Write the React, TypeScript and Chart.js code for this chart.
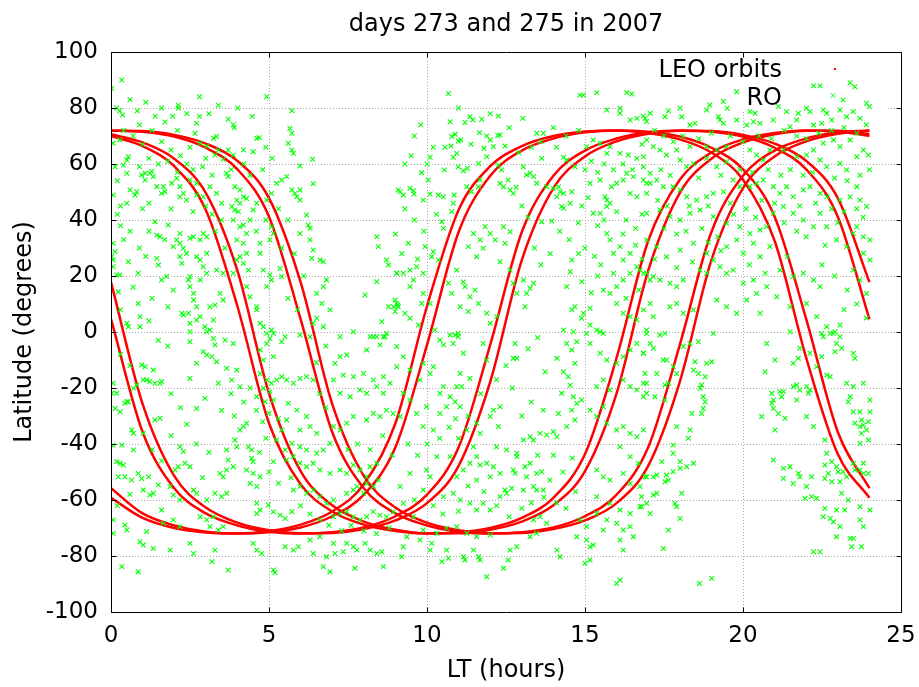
import React, { useEffect, useRef } from 'react';
import { Chart, registerables } from 'chart.js';

Chart.register(...registerables);

const FONT = "'DejaVu Sans', 'Liberation Sans', sans-serif";

const TITLE = 'days 273 and 275 in 2007';
const X_LABEL = 'LT (hours)';
const Y_LABEL = 'Latitude (degrees)';
const LEGEND_LABELS = ['LEO orbits', 'RO'];
const X_TICKS = [0, 5, 10, 15, 20, 25];
const Y_TICKS = [-100, -80, -60, -40, -20, 0, 20, 40, 60, 80, 100];

// LEO orbit tracks (latitude at each local-time hour), two passes per satellite
const leoLT = [0, 1, 2, 3, 4, 5, 6, 7, 8, 9, 10, 11, 12, 13, 14, 15, 16, 17, 18, 19, 20, 21, 22, 23, 24];
const trackP1 = [-59.2, -66.4, -70.0, -71.6, -72.0, -71.1, -68.8, -64.1, -54.4, -32.6, 9.2, 43.6, 59.2, 66.4, 70.0, 71.6, 72.0, 71.1, 68.8, 64.1, 54.4, 32.6, -9.2, -43.6, -59.2];
const trackP2 = [-55.8, -64.8, -69.1, -71.3, -72.0, -71.5, -69.8, -65.8, -58.1, -41.2, -4.6, 35.7, 55.8, 64.8, 69.1, 71.3, 72.0, 71.5, 69.8, 65.8, 58.1, 41.2, 4.6, -35.7, -55.8];
const trackQ1 = [4.6, -35.7, -55.8, -64.8, -69.1, -71.3, -72.0, -71.5, -69.8, -65.8, -58.1, -41.2, -4.6, 35.7, 55.8, 64.8, 69.1, 71.3, 72.0, 71.5, 69.8, 65.8, 58.1, 41.2, 4.6];
const trackQ2 = [17.8, -25.7, -51.4, -62.7, -68.1, -70.8, -71.9, -71.8, -70.4, -67.3, -61.1, -47.8, -17.8, 25.7, 51.4, 62.7, 68.1, 70.8, 71.9, 71.8, 70.4, 67.3, 61.1, 47.8, 17.8];
const trackR1 = [70.0, 66.4, 59.2, 43.6, 9.2, -32.6, -54.4, -64.1, -68.8, -71.1, -72.0, -71.6, -70.0, -66.4, -59.2, -43.6, -9.2, 32.6, 54.4, 64.1, 68.8, 71.1, 72.0, 71.6, 70.0];
const trackR2 = [70.6, 67.7, 61.9, 49.7, 21.9, -21.9, -49.7, -61.9, -67.7, -70.6, -71.9, -71.9, -70.6, -67.7, -61.9, -49.7, -21.9, 21.9, 49.7, 61.9, 67.7, 70.6, 71.9, 71.9, 70.6];
const trackS1 = [72.0, 71.5, 69.8, 65.8, 58.1, 41.2, 4.6, -35.7, -55.8, -64.8, -69.1, -71.3, -72.0, -71.5, -69.8, -65.8, -58.1, -41.2, -4.6, 35.7, 55.8, 64.8, 69.1, 71.3, 72.0];
const trackS2 = [71.9, 71.8, 70.4, 67.3, 61.1, 47.8, 17.8, -25.7, -51.4, -62.7, -68.1, -70.8, -71.9, -71.8, -70.4, -67.3, -61.1, -47.8, -17.8, 25.7, 51.4, 62.7, 68.1, 70.8, 71.9];
const leoTracks = [trackP1, trackP2, trackQ1, trackQ2, trackR1, trackR2, trackS1, trackS2];

// RO occultation locations [LT hours, latitude]
const roEarly = [
[0.02,87],[0.34,90],[0.18,80],[0.28,79],[0.37,77.5],[0.83,79],[2.13,81],[2.13,80],[2.8,84],[4.93,84],[4.01,80],[4.47,77],[5.72,79],[3.71,76],[3.87,74],[3.9,73],[1.71,75],[1.95,77],[2.8,77],[2.71,74.5],[2.1,72],[5.66,72.7],[5.72,71],[5.61,67.4],[5.72,65],[5.77,63.8],[6.38,61.7],[5.98,59.3],[6.4,53],[4.61,69.2],[4.69,69.4],[4.5,64.4],[3.34,69.8],[3.24,69.2],[2.66,71],[2.82,67.4],[3.03,66.4],[3.4,65],[3.71,65],[4.19,65],[3.29,63.2],[3.55,61.7],[3.87,63.2],[0.28,68.6],[0.07,67.4],[0.55,62.6],[0.5,61.4],[0.39,59.6],[0.13,59],[0.07,48.9],[0.5,56.7],[0.6,50.7],[0.81,50.1],[0.76,48.9],[0.97,56.1],[1.08,56.7],[1.23,56.7],[1.29,57.3],[1.34,55.5],[1.08,54.3],[1.45,51.9],[1.66,51.9],[1.71,50.1],[1.6,49.5],[2.08,54.9],[1.92,53.1],[2.18,51.9],[2.29,49.5],[2.18,48.3],[2.39,47.1],[2.5,54.3],[2.71,53.1],[2.71,48.9],[2.92,48.3],[3.13,51.9],[3.34,49.5],[3.66,56.7],[3.71,55.5],[3.92,51.9],[4.08,50.7],[4.19,48.3],[4.29,47.7],[3.98,47.1],[4.08,46],[3.82,44.8],[3.92,43.6],[4.03,43],[3.87,40],[4.08,37.6],[4.19,38.2],[4.29,35.2],[3.98,32.9],[4.19,31.7],[4.29,28.1],[4.08,26.9],[3.98,25.7],[4.19,24.5],[4.35,22.1],[3.87,21],[3.55,21],[4.5,43.6],[4.61,46],[4.4,40],[4.93,47.1],[5.08,49.5],[5.24,53.1],[5.4,54.3],[5.56,55.5],[5.72,50.7],[5.82,49.5],[5.98,50.7],[5.88,48.3],[5.98,47.1],[6.19,41.8],[6.24,38.2],[6.3,37],[5.98,35.2],[6.3,32.9],[6.4,29.3],[6.35,26.3],[6.61,25.7],[6.72,25.1],[6.82,18.6],[6.72,16.2],[6.51,13.8],[6.67,10.2],[6.93,7.9],[6.72,1.9],[6.51,4.9],[6.4,3.1],[5.08,37.6],[5.14,35.2],[5.03,32.9],[4.72,31.7],[4.72,28.1],[4.82,22.1],[5.03,20.4],[5.08,18.6],[4.93,16.2],[5.35,22.7],[5.4,19.8],[2.18,35.2],[2.08,32.9],[2.18,31.7],[1.97,30.5],[2.29,29.9],[1.45,34.6],[1.55,34],[1.81,38.2],[1.39,39.4],[2.5,33.5],[2.61,34],[2.82,32.9],[2.92,35.2],[3.03,34],[2.39,28.1],[2.71,26.9],[2.82,25.7],[2.92,23.3],[3.03,28.1],[2.18,26.9],[2.24,24.5],[2.5,19.8],[2.45,18.6],[2.5,16.2],[2.61,13.8],[2.82,18.6],[3.03,21],[3.34,22.1],[2.61,11.4],[2.71,9],[2.45,6.7],[2.5,3.1],[2.82,5.5],[2.71,4.3],[2.24,6.7],[2.29,6.1],[3.13,9],[3.29,9.6],[3.24,4.3],[2.97,1.9],[3.13,0.7],[3.45,13.8],[3.55,11.4],[1.76,19.8],[1.6,18.6],[1.97,15],[1.45,26.3],[1.5,23.9],[0.55,25.1],[0.86,21],[0.07,31.7],[0.13,28.7],[0.02,26.9],[0.07,25.7],[0.18,20.4],[0.28,20.4],[0.07,23.3],[0.23,14.4],[0.86,10.2],[0.92,5.5],[0.92,1.9],[0.5,3.1],[0.55,1.9],[4.29,16.2],[4.4,12.6],[4.61,9],[4.61,7.9],[4.72,3.1],[4.82,1.9],[4.93,-0.5],[5.08,0.7],[5.14,-0.5],[7.25,-1.7],[7.67,0.1],[8.3,-1.7],[8.62,-1.7],[8.72,-0.5],[8.04,13.2],[8.41,34],[8.46,30.5],[8.72,25.7],[8.78,23.9],[9.04,21],[8.41,18],[8.57,3.7],[8.78,9],[8.99,7.3],[9.07,9.6],[9.09,50.7],
[0.3,45],[0.5,46],[1.0,44],[1.2,46],[1.9,44],[2.6,43],[3.0,45],[3.5,46],[3.2,56],[2.4,60],[1.8,61],[1.2,62],[2.9,59],[0.3,38],[0.6,36],[0.2,42],
[0.4,72],[0.7,70],[1.0,67],[1.3,72],[1.6,68],[1.9,65],[2.2,63],[2.5,66],[0.9,74],[1.4,77],[0.6,83],[1.1,82],[1.6,80],[2.4,78],[3.1,78],[3.4,81],[0.2,54],[0.9,59],[1.5,60],[2.1,57],[2.6,58],[3.0,62],[3.8,58],[4.2,60],[4.4,56],[4.8,58],[5.1,62],[4.9,66],[0.4,33],[0.9,30],[1.2,36],[1.7,33],[1.1,27],[0.7,16],[1.3,12],[1.8,9],[1.2,4],[0.3,8],[3.6,30],[3.3,36],[3.5,40],[3.2,42],[4.6,36],[4.9,40],[5.3,44],[5.6,40],[5.4,30],[5.8,28],[5.6,12],[5.9,8],[6.1,20],
[2.5,0.1],[2.5,-3.5],[3.03,0.1],[3.24,-2.3],[3.29,-4.6],[3.61,-2.9],[3.87,-4.1],[2.92,-7],[3.03,-8.2],[3.19,-8.8],[3.34,-10.6],[2.71,-11.2],[2.5,-16.6],[3.4,-18.3],[3.82,-17.1],[4.08,-19.5],[3.66,-13],[3.98,-13.6],[2.97,-23.7],[2.71,-27.3],[0.07,-18.3],[0.02,-21.9],[0.18,-21.9],[0.13,-27.3],[0.29,-28.5],[0.44,-25.5],[0.5,-24.9],[0.97,-11.8],[1.08,-12.4],[1.34,-13.6],[1.02,-17.1],[1.13,-17.1],[1.23,-17.7],[1.39,-18.3],[1.55,-18.3],[1.6,-17.7],[0.81,-18.9],[0.71,-20.1],[0.55,-24.9],[1.39,-31.4],[1.55,-30.8],[0.65,-35],[0.71,-36.2],[1.02,-36.2],[0.07,-40.4],[0.34,-40.4],[0.71,-42.1],[0.18,-46.3],[0.29,-46.9],[0.39,-47.5],[0.23,-51.7],[0.44,-51.7],[0.65,-52.9],[0.86,-50.5],[0.97,-52.3],[1.19,-51.7],[1.02,-56.4],[1.23,-58.2],[1.34,-57.6],[1.5,-54.6],[2.18,-41],[2.29,-42.7],[2.13,-48.1],[2.03,-49.3],[2.34,-46.9],[2.5,-48.1],[1.87,-55.2],[1.97,-58.2],[2.18,-60],[2.61,-56.4],[2.71,-57.6],[1.6,-63.6],[1.66,-68.3],[0.44,-68.9],[0.5,-70.7],[0.07,-67.1],[0.07,-71.9],[1.13,-71.3],[0.92,-74.9],[1.02,-76.1],[1.34,-77.3],[1.87,-77.9],[2.5,-75.5],[2.61,-79.1],[3.19,-82],[3.29,-77.9],[3.71,-85],[0.34,-83.8],[0.86,-85.6],[1.97,-67.1],[2.18,-69.5],[2.82,-66],[3.03,-67.1],[3.24,-66],[3.13,-69.5],[3.4,-70.7],[3.55,-69.5],[3.03,-60],[3.29,-57.6],[3.5,-58.8],[3.66,-57.6],[3.45,-50.5],[3.55,-51.7],[3.66,-49.3],[3.87,-48.1],[3.71,-45.7],[3.66,-42.1],[3.98,-41],[3.92,-38.6],[4.08,-35],[4.19,-33.8],[4.29,-32.6],[4.35,-41],[4.45,-42.1],[4.45,-45.1],[4.5,-46.3],[4.29,-49.3],[4.5,-50.5],[4.72,-51.7],[4.61,-55.2],[4.4,-54.1],[4.61,-61.2],[4.72,-63.6],[4.61,-64.8],[4.5,-75.5],[4.61,-77.9],[4.77,-79.1],[5.14,-85],[4.98,-61.8],[5.14,-64.2],[5.35,-65.4],[5.51,-66.6],[5.72,-64.2],[5.51,-76.7],[5.77,-77.9],[5.93,-76.7],[6.4,-79.1],[6.72,-83.8],[6.93,-85.6],[6.82,-80.3],[7.09,-79.1],[7.35,-78.5],[7.46,-75.5],[7.67,-76.7],[7.78,-77.9],[8.04,-75.5],[8.2,-77.9],[8.41,-79.1],[8.57,-78.5],[8.62,-83.8],[7.72,-84.4],[6.3,-74.3],[6.61,-73.1],[7.04,-75.5],[5.77,-56.4],[5.98,-55.2],[6.19,-57.6],[6.4,-56.4],[6.61,-58.8],[6.82,-61.2],[7.04,-60],[7.04,-66],[7.25,-64.8],[7.46,-64.2],[7.67,-66],[7.88,-67.1],[8.09,-66],[8.3,-64.2],[8.51,-65.4],[8.72,-66],[8.93,-64.2],[7.46,-57.6],[7.67,-56.4],[7.78,-55.2],[7.99,-57.6],[8.09,-54.1],[8.3,-55.2],[8.46,-52.9],[5.56,-45.7],[5.77,-44.5],[5.98,-46.9],[6.19,-48.1],[6.4,-46.9],[6.61,-49.3],[5.98,-41],[6.19,-42.1],[6.51,-43.3],[6.72,-42.1],[6.93,-39.8],[6.93,-50.5],[7.25,-49.3],[7.46,-50.5],[7.67,-47.5],[7.88,-49.3],[8.09,-51.7],[8.2,-48.1],[8.41,-46.9],[7.04,-33.8],[7.25,-35],[7.46,-32.6],[7.67,-30.2],[8.09,-31.4],[8.3,-29.1],[8.51,-30.2],[8.72,-27.9],[8.93,-29.1],[7.25,-21.9],[7.57,-23.1],[7.88,-20.7],[8.09,-21.9],[8.41,-19.5],[8.62,-21.9],[8.83,-18.3],[7.04,-17.1],[7.35,-15.4],[7.67,-16],[7.99,-14.8],[8.3,-17.1],[8.62,-16],[7.09,-11.2],[7.25,-8.8],[7.46,-8.2],[8.09,-6.4],[8.51,-4.6],[8.67,-1.7],[8.41,-1.7],[8.2,-1.7],[4.72,-14.8],[4.93,-17.1],[5.08,-18.3],[5.24,-17.1],[5.4,-16],[5.56,-17.1],[5.77,-18.3],[5.98,-16.6],[6.19,-16],[6.4,-17.1],[4.82,-20.1],[5.03,-21.3],[4.61,-23.1],[4.88,-24.9],[5.14,-24.3],[4.72,-6.4],[4.93,-4.1],[5.03,-2.3],[4.82,-10],[5.14,-8.8],[5.51,-1.7],[5.4,-3.5],[5.98,-1.1],[6.3,-1.7],[5.61,-25.5],[5.88,-27.9],[6.19,-30.2],[5.56,-31.4],[5.98,-35],[6.3,-33.8],[6.51,-36.2],[5.24,-38.6],[5.4,-35],[5.72,-39.8],[5.51,-42.1],[5.14,-46.3],[5.19,-86],
[3.8,-22],[3.5,-28],[3.9,-30],[4.2,-25],[4.4,-20],[4.6,-28],[4.8,-32],[5.0,-29],[5.3,-31],[4.9,-38],[4.7,-43],[5.0,-50],[5.3,-54],[5.7,-52],[6.0,-62],[6.3,-65],[6.6,-67],[6.9,-69],[7.3,-71],[7.6,-69],[8.0,-71],[8.4,-72],[8.8,-70],[6.8,-27],[6.6,-22],[6.5,-11],[6.8,-5],[7.8,-40],[8.2,-42],[8.6,-37],[8.9,-44],[7.5,-42],[1.8,-5],[1.5,-3],[0.3,-8],[0.6,-12],[1.9,-22],[2.2,-27],[2.4,-33],[1.9,-37],[2.7,-40],[3.1,-43],[2.9,-52],[0.6,-58],[0.2,-62],[1.6,-46],[1.3,-42]
];

const roMid = [
[10.68,85.2],[14.84,84.6],[14.95,84.6],[15.37,85.5],[16.32,85.5],[16.48,85],[10.73,75.1],[11.36,76.9],[11.45,75.7],[11.73,76],[11.2,74.8],[12.26,77.1],[13.03,76.3],[11.66,71.2],[10.99,68.2],[11.07,68.6],[11.39,67.1],[10.89,70.6],[10.78,69.8],[10.57,66],[10.76,66.4],[10.1,62.4],[10.83,62.4],[10.94,63.8],[10.55,57.9],[10.99,59],[11.15,57.6],[11.28,58.5],[9.83,56.9],[10.04,54.3],[9.15,50.1],[9.25,48.9],[9.46,51.3],[9.57,50.5],[9.59,49.3],[9.88,47.1],[10.1,49.3],[10.36,48.9],[10.52,48.3],[10.83,46],[10.86,48.9],[10.78,43],[10.47,39.4],[10.52,37],[10.2,28.7],[10.15,26.9],[10.36,25.7],[10.94,22.1],[10.68,17.4],[10.78,13.8],[11.15,17.9],[9.94,30.5],[9.41,31.7],[9.04,21],[9.25,21],[9.46,22.1],[9.67,23.3],[9.88,21],[9.57,18.6],[9.46,16.2],[9.88,13.8],[9.83,10.2],[10.1,10.2],[9.09,9],[9.04,10.2],[9.3,6.7],[9.46,4.9],[9.73,2.5],[10.25,0.7],[10.89,-1.1],[10.99,-0.5],[11.41,50.1],[11.63,51.9],[11.68,54.3],[11.26,51.9],[11.63,60.2],[11.89,62.6],[11.8,65.6],[11.89,70],[12,68.6],[12.1,66.2],[12.24,70.2],[12.31,70.4],[12.47,66.4],[12.26,59.6],[12.36,57.9],[12.31,53.1],[12.42,51.9],[12.57,54.3],[12.63,50.7],[12.73,49.5],[12.82,51.7],[13.05,59],[13.15,56.1],[13.26,56.7],[13.37,55.5],[13.47,53.1],[13.79,51.9],[14,51.3],[14.16,51.9],[14.32,49.5],[14.58,50.1],[13.63,62],[14.32,62.4],[14.42,61.4],[14.68,59],[14.11,48.3],[14.26,44.8],[14.21,50.1],[14.32,44.2],[14.53,46],[13.95,39.6],[13.63,39.4],[14.79,39],[13.47,71],[13.68,71],[11.84,37.6],[12,35.2],[12.16,32.9],[12.42,37.6],[12.47,31.7],[12.63,35.8],[11.47,35.2],[11.68,32.9],[11.78,29.9],[11.31,30.5],[11.57,26.9],[12.31,25.1],[12.63,22.1],[12.73,17.4],[12.84,13.8],[13.05,18.6],[13.26,15.6],[13.15,13.8],[13.37,17.4],[11.2,16.2],[11.36,12.6],[11.05,9],[11.31,7.3],[11.52,15],[11.63,10.2],[11.89,6.7],[12,3.1],[12.21,5.5],[13.1,9],[14.53,21.5],[14.58,25.7],[14.42,16.2],[14.58,7.9],[14.68,9],[14.89,4.9],[14.95,6.7],[15.16,8.5],[15.26,42.4],[15.48,42.4],[15.69,47.1],[15.69,44.8],[15.79,46],[15.63,48.3],[15.16,53.1],[15.48,54.3],[15.84,51.9],[16,53.1],[16.21,54.3],[16.43,49.5],[16.64,48.3],[16.95,49.5],[15.05,66.2],[15.26,68.6],[15.48,67.4],[15.79,66.2],[15.69,63.8],[16.11,63.8],[16.37,63.2],[16.64,62],[16.85,62.6],[16.11,78.1],[16.43,75.7],[16.64,76.3],[16.85,77.1],[16.95,75.2],[15.69,79.3],[16.11,79.9],[16.32,56.7],[16.53,55.5],[16.85,54.3],[15.69,35.2],[15.79,32.9],[16.11,30.5],[15.9,28.1],[16.21,25.7],[16.43,28.1],[16.64,23.3],[15.58,15],[15.79,13.8],[16,16.2],[16.21,18.6],[16.43,21],[16.85,21],[15.16,2.5],[15.37,0.7],[15.48,0.1],[16,10.2],[16.21,6.7],[16.43,5.5],[16.64,4.3],[16.85,7.9],[14.63,0.1],[14.32,0.7],[8.94,9],[8.99,11.4],
[9.6,40],[9.9,36],[10.3,42],[10.0,60],[9.5,63],[9.3,44],
[14.1,66],[14.4,70],[14.8,72],[15.0,58],[15.2,61],[15.4,57],[15.6,60],[15.9,58],[16.2,60],[16.5,58],[16.8,67],[14.9,45],[15.1,48],[15.4,38],[15.6,40],[16.0,43],[16.3,40],[16.6,37],[16.8,42],[15.0,30],[15.3,27],[15.5,24],[15.9,21],[16.2,35],[16.6,31],[16.8,26],[14.9,18],[15.2,14],[15.4,20],[16.3,12],[16.7,15],[14.5,33],[14.8,28],[14.2,36],[13.9,28],[13.6,24],[13.4,30],[13.2,41],[13.0,45],[12.9,64],[13.3,66],[13.6,68],[14.0,73],[12.6,73],[12.0,78],[11.0,80],[9.6,70],[9.8,74],[9.3,60],[10.2,66],[9.0,35],[9.2,28],[9.7,26],
[9.04,-5.2],[10.41,-2.9],[10.52,-4.6],[10.83,-4.1],[10.99,-1.7],[10.73,-1.1],[11.15,-7.6],[11.36,-16.6],[11.05,-14.8],[10.94,-19.5],[11.78,-4.1],[11.89,-10],[12.79,-4.1],[12.73,-9.4],[12.84,-9.4],[13.74,-14.2],[13.68,-27.9],[14.11,-9.4],[14.42,-4.1],[14.58,-6.4],[14.68,-11.2],[14.74,-3.5],[14.32,-14.2],[14.47,-16],[14.53,-19],[14.26,-21.9],[14.63,-23.1],[14.74,-25.5],[14.89,-24.3],[14.16,-29.1],[14.58,-27.9],[14.68,-31.4],[14.42,-33.8],[15.16,-27.9],[15.37,-30.2],[15.58,-26.7],[15.16,-4.1],[15.05,-0.5],[15.58,-0.5],[15.48,-7.6],[15.69,-10],[16,-11.2],[16.21,-8.8],[16.43,-6.4],[16.64,-4.1],[16.85,-7.6],[15.37,-19.5],[15.58,-17.1],[15.79,-20.7],[16.21,-17.1],[16.43,-19.5],[16.64,-20.7],[16.85,-18.3],[16.95,-21.9],[15.69,-32.6],[16,-35],[16.21,-33.8],[16.43,-36.2],[16.64,-37.4],[16.85,-35],[16.11,-41],[16.43,-44.5],[16.69,-46.9],[15.37,-49.3],[15.58,-51.7],[15.79,-52.9],[16.21,-50.5],[16.43,-54.1],[16.74,-55.2],[16.95,-51.7],[15.37,-58.8],[15.79,-61.2],[16.11,-63.6],[16.43,-64.8],[16.74,-62.4],[16.95,-61.2],[15.69,-67.1],[16,-68.3],[16.21,-70.7],[16.43,-69.5],[16.53,-73.1],[16.11,-74.3],[16.21,-77.9],[16.11,-88.6],[16,-89.8],[15,-82.6],[15.16,-81.4],[15.26,-76.1],[14.11,-77.9],[14.21,-80.3],[14.74,-73.1],[15.05,-69.5],[14.84,-67.1],[12.84,-76.7],[12.63,-77.9],[12.57,-81.4],[12.42,-84.4],[11.89,-87.4],[11.68,-81.4],[11.63,-80.3],[11.47,-77.9],[11.15,-80.3],[11.2,-81.4],[10.68,-80.8],[10.62,-77.9],[10.47,-82],[10.1,-77.9],[10.15,-75.5],[9.78,-74.3],[9.25,-76.7],[9.2,-80.3],[9.57,-66],[9.36,-73.1],[9.88,-70.7],[10.31,-71.9],[10.62,-70.1],[10.94,-69.5],[11.26,-71.9],[11.57,-73.1],[12,-72.5],[10.52,-58.8],[10.83,-57.6],[11.05,-60],[11.36,-61.2],[11.57,-63.6],[11.78,-61.2],[12,-63.6],[12.31,-58.8],[12.52,-57.6],[12.68,-55.8],[12.47,-56.4],[10.94,-51.7],[11.15,-49.3],[11.57,-52.9],[12,-51.7],[12.31,-50.5],[12.73,-49.3],[12.84,-43.3],[12.52,-42.1],[12.2,-41],[11.57,-44.5],[11.89,-46.9],[12.1,-48.1],[11.68,-47.5],[11.36,-46.9],[11.47,-41],[13.05,-56.4],[13.37,-55.2],[13.47,-56.4],[13.68,-56.4],[13.15,-51.7],[13.47,-50.5],[13.63,-49.9],[13.89,-52.9],[13.05,-38.6],[13.26,-37.4],[13.37,-38.6],[13.58,-36.2],[13.79,-36.8],[14,-35.6],[14.11,-37.4],[12.84,-44.5],[12.79,-50.5],[13.26,-46.9],[13.1,-48.1],[12,-30.2],[12.26,-33.8],[12.1,-27.9],[12.31,-26.7],[11.26,-35],[11.57,-32.6],[11.68,-36.2],[10.2,-35],[9.88,-33.8],[10.41,-29.1],[10.62,-26.7],[9.99,-49.3],[10.31,-44.5],[10.73,-44.5],[9.88,-56.4],[10.1,-51.7],[9.46,-50.5],[9.25,-61.2],[9.15,-55.2],[9.25,-21.9],[9.15,-30.2],[9.46,-24.3],[9.67,-29.1],[9.99,-26.7],[9.88,-11.2],[10.2,-12.4],[10.1,-14.8],[9.78,-17.1],[9.46,-13.6],[9.25,-8.8],[9.04,-12.4],[11.1,-19.5],[10.73,-23.1],[10.89,-24.9],[11.05,-26.7],[10.52,-19.5],[10.41,-21.9],[15.58,-70.7],[15.37,-64.8],[15.05,-74.3],[15.16,-76.7],[13.37,-67.1],[13.58,-66],[13.79,-68.3],[13.47,-71.9],[13.26,-73.1],
[9.4,-40],[9.7,-44],[10.0,-40],[10.4,-38],[10.7,-34],[11.0,-38],[11.3,-30],[10.9,-31],[9.6,-60],[10.2,-62],[10.5,-65],[11.0,-64],[11.3,-55],[11.8,-57],[12.2,-62],[12.6,-66],[13.0,-63],[13.3,-61],[13.7,-59],[14.1,-61],[14.4,-63],[14.7,-57],[14.3,-50],[14.6,-45],[14.0,-44],[13.5,-44],[13.0,-30],[13.3,-25],[12.7,-20],[12.2,-17],[11.7,-22],[12.5,-12],[13.2,-6],[13.5,-2]
];

const roLate = [
[19.8,85.8],[22.23,87.9],[22.44,87.9],[23.39,89],[23.54,87.6],[23.17,82.9],[23.91,81.7],[24,80.5],[19.38,82.3],[19.5,79.9],[18.95,81.1],[18.85,79.3],[18.01,79.9],[18.06,76.9],[17.64,79],[17.53,76.9],[17.06,78.1],[16.9,76.3],[18.48,74.5],[18.32,73.9],[19.22,76.9],[19.27,75.7],[19.38,74.5],[20.22,78.7],[20.38,78.1],[20.54,74.5],[20.33,75.1],[21.12,80.5],[21.38,78.7],[21.75,78.1],[22.01,79.9],[22.12,78.7],[22.54,79.3],[22.65,78.1],[22.81,75.7],[23.07,79.3],[23.28,76.9],[23.49,78.7],[23.7,76.3],[21.7,75.7],[21.49,73.3],[22.23,73.9],[22.49,74.5],[19.8,75.7],[20.12,73.9],[20.96,75.7],[16.95,68.6],[17.16,66.2],[17.37,65],[17.58,63.2],[17.9,65],[18.32,66.2],[18.85,66.2],[19.17,65],[19.48,66.2],[18.01,61.4],[18.22,59],[18.43,60.2],[18.85,62],[19.17,59],[19.48,60.8],[20.22,65],[20.43,63.2],[20.64,61.4],[20.85,65],[21.28,65],[21.7,62.6],[22.01,63.2],[22.44,61.4],[22.65,59],[23.07,60.2],[23.28,57.9],[23.6,62.6],[23.81,65],[23.97,63.2],[22.23,65],[22.54,67.4],[23.07,66.2],[23.39,68.6],[22.86,68.6],[16.85,59],[17.06,56.7],[16.95,53.1],[17.27,54.3],[17.48,51.9],[17.79,51.9],[18.01,50.7],[18.22,48.3],[18.53,47.1],[18.85,48.3],[19.06,49.5],[19.38,50.1],[19.69,54.3],[19.9,51.9],[20.22,51.9],[20.43,53.1],[20.64,54.3],[20.96,51.9],[21.17,49.5],[21.38,51.9],[21.59,48.3],[21.91,50.7],[22.12,51.9],[22.44,49.5],[22.65,48.3],[23.07,47.1],[23.39,48.3],[23.6,51.9],[23.7,47.1],[23.91,44.8],[16.95,42.4],[17.37,43.6],[17.69,41.2],[18.01,40],[18.32,42.4],[18.64,43.6],[19.06,41.2],[19.48,38.8],[19.9,37.6],[20.22,35.2],[20.54,36.4],[20.75,37.6],[20.96,42.4],[21.28,44.8],[21.59,42.4],[21.91,40],[22.23,37.6],[22.44,42.4],[22.65,37.6],[22.96,32.9],[23.28,30.5],[23.49,35.2],[23.81,34],[24.02,32.9],[16.95,32.9],[17.27,30.5],[17.58,26.9],[18.01,29.3],[18.43,31.7],[18.85,28.1],[19.06,25.7],[19.48,30.5],[19.8,32.9],[20.01,28.1],[20.33,31.7],[20.54,26.9],[20.85,30.5],[16.74,22.1],[16.95,21],[17.16,19.8],[17.37,18.6],[17.69,17.4],[17.9,16.2],[18.11,18.6],[18.64,22.1],[18.85,21],[19.27,23.3],[19.48,21],[19.69,22.1],[20.01,17.4],[20.33,18.6],[20.43,13.8],[20.75,16.2],[21.17,22.1],[21.59,19.8],[21.91,21],[22.23,18.6],[22.44,16.2],[17.06,10.2],[17.16,5.5],[16.95,0.7],[17.69,9],[17.9,10.2],[18.11,6.7],[18.43,7.9],[19.17,11.4],[19.48,9],[19.8,6.7],[20.12,11.4],[20.54,6.7],[21.07,12.6],[21.49,9],[22.01,10.2],[22.33,5.5],[22.65,1.9],[22.86,-0.5],[23.07,2.5],[23.49,22.1],[23.7,18.6],[23.91,13.8],[23.6,37.6],[23.81,28.1],[24.02,25.7],[17.06,53.1],[17.06,18.6],
[17.2,72],[17.5,70],[17.8,68],[18.1,70],[18.6,69],[19.0,71],[19.6,70],[20.0,68],[20.5,70],[20.9,69],[21.3,72],[21.7,70],[22.0,69],[22.4,71],[22.8,72],[23.2,73],[23.6,71],[23.9,74],[17.4,58],[17.7,56],[18.6,55],[19.3,56],[19.9,58],[20.3,57],[20.8,58],[21.2,56],[21.5,58],[21.9,56],[22.2,57],[22.9,55],[23.3,54],[23.7,56],[24.0,58],[17.3,47],[17.6,45],[18.3,45],[18.9,45],[19.6,46],[20.1,44],[20.6,47],[21.0,46],[21.8,45],[22.3,46],[22.8,44],[23.2,43],[23.8,41],[17.5,37],[17.9,35],[18.2,36],[18.7,37],[19.2,34],[19.7,42],[20.4,41],[21.3,39],[21.7,36],[22.0,34],[22.6,31],[23.0,39],[23.6,44],[17.2,26],[17.9,23],[18.4,25],[18.9,32],[19.3,29],[20.2,24],[20.7,21],[21.4,27],[22.5,24],[22.9,20],[23.3,15],[23.6,10],[23.9,5],[23.2,8],
[16.95,-0.5],[17.06,-4.1],[17.16,-5.8],[16.85,-7.6],[17.37,-1.1],[17.53,-0.5],[16.9,-14.8],[16.95,-18.3],[17.21,-23.1],[16.85,-23.1],[17.48,-10],[17.58,-10],[17.79,-12.4],[17.9,-14.8],[17.27,-14.8],[17.53,-18.9],[17.64,-18.3],[18.11,-5.2],[18.32,-4.1],[18.59,-3.5],[18.48,-10.6],[18.43,-13.6],[18.59,-14.8],[18.8,-16],[18.64,-20.1],[18.74,-23.1],[18.8,-24.9],[18.69,-29.1],[18.38,-29.1],[18.32,-35],[18.27,-38],[17.9,-33.8],[17.79,-40.4],[17.79,-43.3],[18.01,-46.3],[17.43,-46.3],[17.16,-51.7],[16.9,-51.7],[17.27,-51.1],[17.58,-51.1],[17.79,-49.9],[18.01,-48.7],[18.22,-48.1],[18.43,-46.9],[17.53,-53.5],[17.64,-52.9],[18.06,-57.6],[17.27,-57.6],[17.16,-58.2],[16.79,-58.8],[16.79,-62.4],[17.85,-61.2],[17.9,-62.4],[17.06,-64.8],[18.01,-66.6],[17.64,-70.7],[17.48,-77.3],[18.62,-89.8],[19.01,-88],[19.06,-0.5],[20.75,-4.1],[20.7,-14.2],[21.01,-10],[21.49,0.1],[21.59,-11.2],[21.75,-9.4],[20.91,-21.9],[20.96,-24.3],[20.91,-25.5],[21.17,-21.3],[21.22,-23.1],[21.28,-21.3],[21.59,-19.5],[21.7,-18.9],[21.8,-20.7],[22.01,-19.5],[22.12,-20.7],[22.07,-21.9],[20.59,-30.2],[20.96,-27.3],[21.12,-29.1],[21.33,-30.8],[21.7,-24.3],[22.01,-30.2],[22.23,-33.8],[21.01,-35],[20.96,-45.7],[21.28,-48.7],[21.49,-48.1],[21.28,-52.3],[21.59,-54.1],[21.75,-50.5],[21.8,-51.7],[22.01,-55.2],[22.17,-51.7],[21.96,-59.4],[22.17,-58.8],[22.33,-59.4],[22.49,-0.5],[22.54,-1.7],[22.76,-0.5],[22.91,0.1],[23.07,-1.7],[22.96,-4.1],[21.8,-5.8],[22.12,-7.6],[22.49,-8.8],[22.91,-7],[23.12,-5.8],[23.49,-7.6],[23.54,-9.4],[22.33,-12.4],[22.65,-15.4],[22.76,-16],[23.28,-18.3],[23.81,-18.3],[23.49,-19.5],[24.02,-24.3],[23.33,-24.9],[23.39,-23.1],[23.49,-28.5],[23.7,-28.5],[23.75,-31.4],[24.02,-28.5],[23.97,-32],[23.54,-32.6],[23.7,-33.8],[23.81,-33.2],[23.91,-35],[23.75,-36.2],[23.97,-38.6],[23.7,-39.8],[22.59,-38.6],[22.65,-43.3],[22.59,-47.5],[22.81,-46.3],[22.96,-48.1],[22.7,-50.5],[23.01,-49.9],[23.17,-49.9],[23.28,-51.7],[22.59,-52.3],[22.81,-53.5],[23.07,-53.5],[23.49,-46.9],[23.54,-49.3],[23.81,-46.9],[23.97,-50.5],[23.81,-50.5],[23.7,-49.3],[23.12,-57.6],[23.33,-60],[23.7,-62.4],[24.02,-63.6],[22.59,-63],[22.54,-66],[22.76,-66.6],[22.86,-67.8],[22.96,-63.6],[23.22,-63.6],[23.07,-69.5],[22.96,-73.1],[23.39,-73.7],[23.49,-73.7],[23.44,-76.7],[23.75,-76.7],[23.81,-69.5],[23.7,-67.1],[22.44,-78.5],[22.23,-78.5],[17.53,-24.3],[18.85,-11.2],[19.01,-10.6],[18.69,-18.9],[18.74,-27.3]
];

const RED = '#ff0000';
const GREEN = '#00ff00';

const gnuplotDecor = {
  id: 'gnuplotDecor',
  beforeDatasetsDraw(chart: any) {
    const { ctx, chartArea: a, scales } = chart;
    const xs = scales.x;
    const ys = scales.y;
    ctx.save();
    ctx.strokeStyle = '#a8a8a8';
    ctx.lineWidth = 1;
    ctx.setLineDash([1, 2]);
    ctx.beginPath();
    for (const v of X_TICKS) {
      if (v <= xs.min || v >= xs.max) continue;
      const px = Math.round(xs.getPixelForValue(v)) + 0.5;
      ctx.moveTo(px, a.top);
      ctx.lineTo(px, a.bottom);
    }
    for (const v of Y_TICKS) {
      if (v <= ys.min || v >= ys.max) continue;
      const py = Math.round(ys.getPixelForValue(v)) + 0.5;
      ctx.moveTo(a.left, py);
      ctx.lineTo(a.right, py);
    }
    ctx.stroke();
    ctx.setLineDash([]);
    // key background hides the grid
    ctx.fillStyle = '#ffffff';
    ctx.fillRect(a.right - 278, a.top + 1, 264, 58);
    ctx.restore();
  },
  afterDatasetsDraw(chart: any) {
    const { ctx, chartArea: a, scales } = chart;
    const xs = scales.x;
    const ys = scales.y;
    ctx.save();
    const L = Math.round(a.left) + 0.5;
    const T = Math.round(a.top) + 0.5;
    const R = Math.round(a.right) + 0.5;
    const B = Math.round(a.bottom) + 0.5;
    ctx.strokeStyle = '#000000';
    ctx.lineWidth = 1;
    ctx.beginPath();
    ctx.rect(L, T, R - L, B - T);
    const tl = 5;
    for (const v of X_TICKS) {
      const px = Math.round(xs.getPixelForValue(v)) + 0.5;
      ctx.moveTo(px, B);
      ctx.lineTo(px, B - tl);
      ctx.moveTo(px, T);
      ctx.lineTo(px, T + tl);
    }
    for (const v of Y_TICKS) {
      const py = Math.round(ys.getPixelForValue(v)) + 0.5;
      ctx.moveTo(L, py);
      ctx.lineTo(L + tl, py);
      ctx.moveTo(R, py);
      ctx.lineTo(R - tl, py);
    }
    ctx.stroke();

    // key
    ctx.font = `24px ${FONT}`;
    ctx.fillStyle = '#000000';
    ctx.textAlign = 'right';
    ctx.textBaseline = 'middle';
    ctx.fillText(LEGEND_LABELS[0], a.right - 119, a.top + 19);
    ctx.fillText(LEGEND_LABELS[1], a.right - 119, a.top + 46.5);
    ctx.fillStyle = RED;
    ctx.fillRect(a.right - 67, a.top + 16, 2, 2);
    const cx = a.right - 68;
    const cy = a.top + 43.5;
    ctx.strokeStyle = GREEN;
    ctx.beginPath();
    ctx.moveTo(cx - 2.3, cy - 2.3);
    ctx.lineTo(cx + 2.3, cy + 2.3);
    ctx.moveTo(cx - 2.3, cy + 2.3);
    ctx.lineTo(cx + 2.3, cy - 2.3);
    ctx.stroke();
    ctx.restore();
  },
};

export default function App() {
  const canvasRef = useRef<HTMLCanvasElement | null>(null);

  useEffect(() => {
    document.body.style.margin = '0';
    const canvas = canvasRef.current;
    if (!canvas) return;

    const roPoints = [...roEarly, ...roMid, ...roLate].map(([x, y]) => ({ x, y }));
    const trackSets = leoTracks.map((track) => ({
      label: LEGEND_LABELS[0],
      data: track.map((y, i) => ({ x: leoLT[i], y })),
      showLine: true,
      borderColor: RED,
      backgroundColor: RED,
      borderWidth: 2.5,
      pointRadius: 0,
      cubicInterpolationMode: 'monotone',
      order: 1,
    }));

    const chart = new Chart(canvas, {
      type: 'scatter',
      data: {
        datasets: [
          {
            label: LEGEND_LABELS[1],
            data: roPoints,
            pointStyle: 'crossRot',
            pointRadius: 3.3,
            borderWidth: 1.1,
            borderColor: GREEN,
            backgroundColor: GREEN,
            order: 0,
          },
          ...trackSets,
        ] as any,
      },
      options: {
        animation: false,
        responsive: false,
        devicePixelRatio: 1,
        events: [],
        layout: { padding: { left: 0, right: 18, top: 0, bottom: 0 } },
        plugins: {
          legend: { display: false },
          tooltip: { enabled: false },
          title: {
            display: true,
            text: TITLE,
            color: '#000000',
            fullSize: false,
            font: { family: FONT, size: 24, weight: 'normal' },
            padding: { top: 10, bottom: 13.2 },
          },
        },
        scales: {
          x: {
            type: 'linear',
            min: 0,
            max: 25,
            grid: { display: false, drawTicks: false },
            border: { display: false },
            ticks: {
              stepSize: 5,
              autoSkip: false,
              color: '#000000',
              padding: 10,
              font: { family: FONT, size: 23 },
            },
            title: {
              display: true,
              text: X_LABEL,
              color: '#000000',
              font: { family: FONT, size: 24 },
              padding: { top: 0, bottom: 2 },
            },
            afterFit: (scale: any) => {
              scale.height = 75;
              scale.paddingLeft = 10;
              scale.paddingRight = 10;
            },
          },
          y: {
            type: 'linear',
            min: -100,
            max: 100,
            grid: { display: false, drawTicks: false },
            border: { display: false },
            ticks: {
              stepSize: 20,
              autoSkip: false,
              color: '#000000',
              padding: 13,
              font: { family: FONT, size: 23 },
            },
            title: {
              display: true,
              text: Y_LABEL,
              color: '#000000',
              font: { family: FONT, size: 24 },
              padding: { top: 10, bottom: 0 },
            },
            afterFit: (scale: any) => {
              scale.width = 111;
            },
          },
        },
      } as any,
      plugins: [gnuplotDecor],
    });

    return () => {
      chart.destroy();
    };
  }, []);

  return (
    <div style={{ width: 919, height: 687 }}>
      <canvas ref={canvasRef} width={919} height={687} style={{ display: 'block', width: 919, height: 687 }} />
    </div>
  );
}
